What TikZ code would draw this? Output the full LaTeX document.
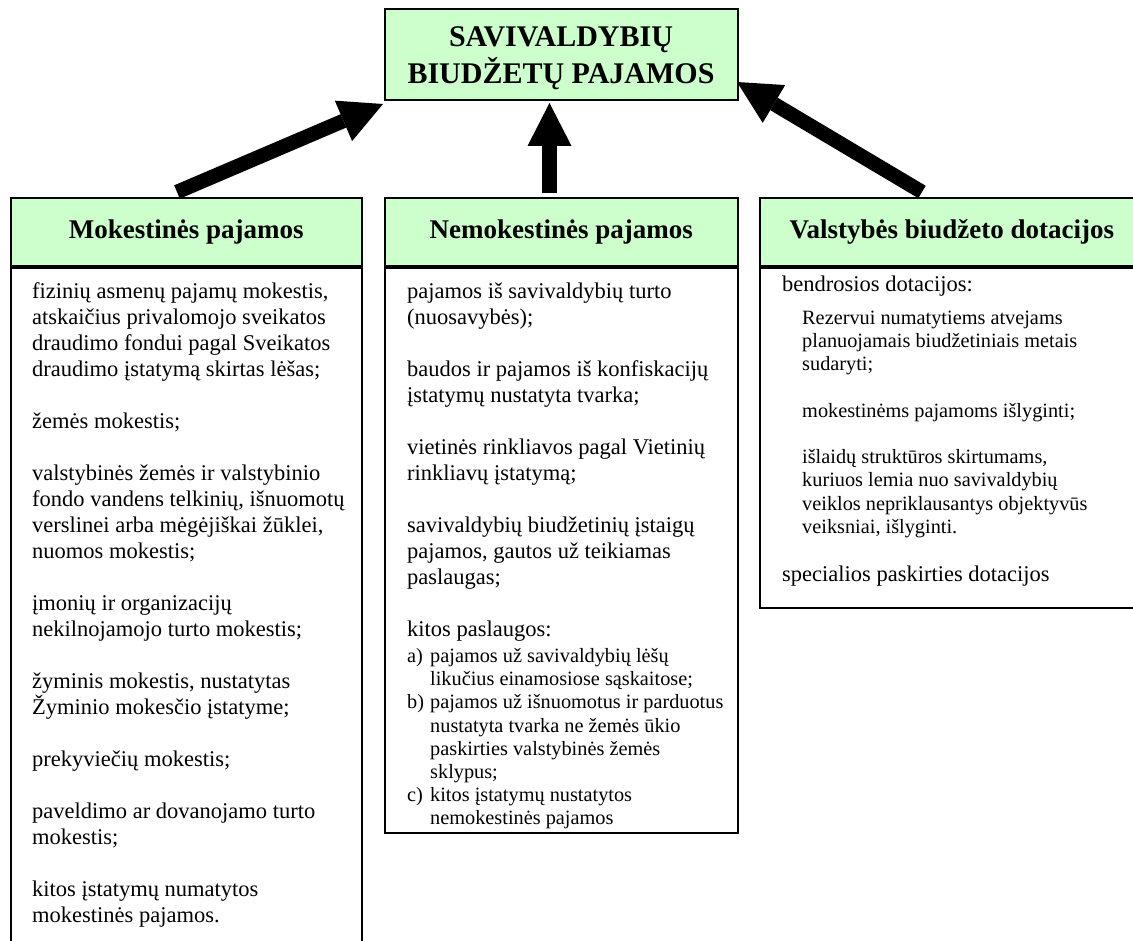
\documentclass[tikz,border=0pt]{standalone}
\usepackage{fontspec}
\setmainfont{Liberation Serif}
\usetikzlibrary{arrows.meta}
\definecolor{boxgreen}{HTML}{CCFFCC}
\tikzset{
  greenbox/.style={draw=black, line width=1.6pt, fill=boxgreen, inner sep=0pt, anchor=north west, align=center},
  textbox/.style={draw=black, line width=1.6pt, fill=white, inner sep=0pt, anchor=north west},
  bigtxt/.style={font=\fontsize{22.5}{26}\selectfont, align=left, anchor=north west, inner sep=0pt},
  smalltxt/.style={font=\fontsize{20.3}{23.2}\selectfont, align=left, anchor=north west, inner sep=0pt},
  headtxt/.style={font=\fontsize{27}{31}\selectfont\bfseries},
  titletxt/.style={font=\fontsize{30}{37}\selectfont\bfseries, align=center, inner sep=0pt},
  bigarrow/.style={line width=14.5pt, -{Triangle[length=43pt,width=44pt,line width=0pt]}},
}
\newcommand{\lbl}[1]{\makebox[23pt][l]{#1}}
\newcommand{\ind}{\hspace*{23pt}}
\begin{document}
\begin{tikzpicture}[x=1pt,y=-1pt]
\useasboundingbox (0,0) rectangle (1133,941);
% top box
\node[greenbox, minimum width=353pt, minimum height=91pt] (top) at (384,8) {};
\node[titletxt] (toptxt) at (561,58) {SAVIVALDYBIŲ\\BIUDŽETŲ PAJAMOS};
% header boxes
\node[greenbox, headtxt, minimum width=351pt, minimum height=68pt] (h1) at (10,197) {Mokestinės pajamos};
\node[greenbox, headtxt, minimum width=353pt, minimum height=68pt] (h2) at (384,197) {Nemokestinės pajamos};
\node[greenbox, headtxt, minimum width=384pt, minimum height=68pt] (h3) at (759,197) {Valstybės biudžeto dotacijos};
% text boxes
\node[textbox, minimum width=351pt, minimum height=720pt] (b1) at (10,267) {};
\node[textbox, minimum width=353pt, minimum height=565pt] (b2) at (384,267) {};
\node[textbox, minimum width=384pt, minimum height=340pt] (b3) at (759,267) {};
% left text
\node[bigtxt] (t1) at (32,280) {\strut fizinių asmenų pajamų mokestis,\\
atskaičius privalomojo sveikatos\\
draudimo fondui pagal Sveikatos\\
draudimo įstatymą skirtas lėšas;\\[26pt]
žemės mokestis;\\[26pt]
valstybinės žemės ir valstybinio\\
fondo vandens telkinių, išnuomotų\\
verslinei arba mėgėjiškai žūklei,\\
nuomos mokestis;\\[26pt]
įmonių ir organizacijų\\
nekilnojamojo turto mokestis;\\[26pt]
žyminis mokestis, nustatytas\\
Žyminio mokesčio įstatyme;\\[26pt]
prekyviečių mokestis;\\[26pt]
paveldimo ar dovanojamo turto\\
mokestis;\\[26pt]
kitos įstatymų numatytos\\
mokestinės pajamos.};
% middle text
\begin{scope}
\clip (b2.north west) rectangle (b2.south east);
\node[bigtxt] (t2) at (407,280) {\strut pajamos iš savivaldybių turto\\
(nuosavybės);\\[26pt]
baudos ir pajamos iš konfiskacijų\\
įstatymų nustatyta tvarka;\\[26pt]
vietinės rinkliavos pagal Vietinių\\
rinkliavų įstatymą;\\[26pt]
savivaldybių biudžetinių įstaigų\\
pajamos, gautos už teikiamas\\
paslaugas;\\[26pt]
kitos paslaugos:};
\node[smalltxt] (t3) at (407,646) {\strut\lbl{a)}pajamos už savivaldybių lėšų\\
\ind likučius einamosiose sąskaitose;\\
\lbl{b)}pajamos už išnuomotus ir parduotus\\
\ind nustatyta tvarka ne žemės ūkio\\
\ind paskirties valstybinės žemės\\
\ind sklypus;\\
\lbl{c)}kitos įstatymų nustatytos\\
\ind nemokestinės pajamos};
\end{scope}
% right text
\node[bigtxt] (t4) at (782,273) {\strut bendrosios dotacijos:};
\node[smalltxt] (t5) at (802,308) {\strut Rezervui numatytiems atvejams\\
planuojamais biudžetiniais metais\\
sudaryti;\\[23.2pt]
mokestinėms pajamoms išlyginti;\\[23.2pt]
išlaidų struktūros skirtumams,\\
kuriuos lemia nuo savivaldybių\\
veiklos nepriklausantys objektyvūs\\
veiksniai, išlyginti.};
\node[bigtxt] (t6) at (782,563) {\strut specialios paskirties dotacijos};
% arrows
\coordinate (a1s) at (177,192);
\coordinate (a1e) at (383,104);
\coordinate (a2s) at (549.5,193);
\coordinate (a2e) at (549.5,103);
\coordinate (a3s) at (922,192);
\coordinate (a3e) at (737,82);
\draw[bigarrow] (a1s) -- (a1e);
\draw[bigarrow] (a2s) -- (a2e);
\draw[bigarrow] (a3s) -- (a3e);
\end{tikzpicture}
\end{document}
